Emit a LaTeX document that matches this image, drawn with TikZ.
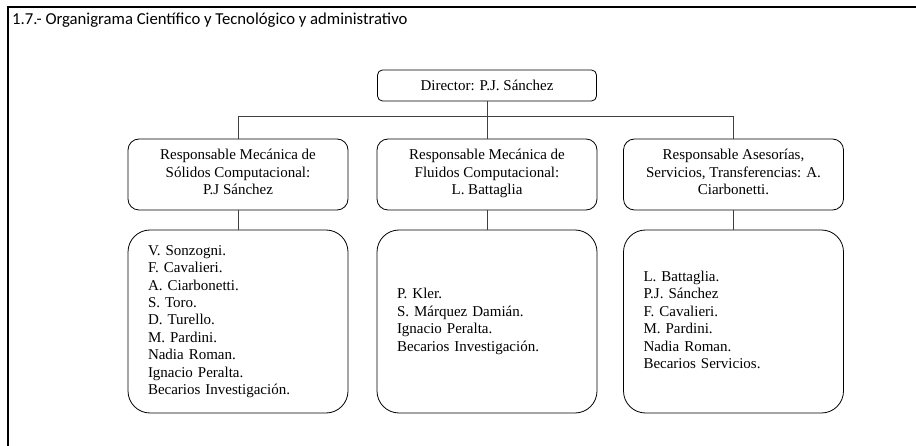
\documentclass[tikz,border=0pt]{standalone}
\usepackage{fontspec}
\setmainfont{Liberation Serif}
\newfontfamily\titlefont{Carlito}

\begin{document}
\begin{tikzpicture}[x=1pt,y=-1pt,boss/.style={shape=rectangle,draw=black,thick,rounded corners=5pt,minimum width=219pt,minimum height=31pt,font=\fontsize{15}{17.4}\selectfont},head/.style={boss,rounded corners=11pt,minimum width=220pt,minimum height=71pt,align=center,execute at begin node=\strut,execute at end node=\strut},staff/.style={boss,rounded corners=22pt,minimum height=183pt,text width=180pt,inner xsep=20pt,align=left,execute at begin node=\strut,execute at end node=\strut},link/.style={draw=black!75,line width=0.9pt}]
\def\ybar{116};
\def\ya{85.5};
\def\yb{174.5};
\def\yc{321.5};

\useasboundingbox (0,0) rectangle (916,446);
\draw[line width=1.6pt] (8,446) -- (8,7) -- (916,7);
\node[anchor=base west,inner sep=0pt,font=\titlefont\fontsize{16.7}{19}\selectfont] (title) at (12,25) {1.7.- Organigrama Científico y Tecnológico y administrativo};

\node[boss] (D) at (487,\ya) {Director: P.J. Sánchez};

\node[head] (R1) at (238,\yb) {Responsable Mecánica de\\Sólidos Computacional:\\P.J Sánchez};
\node[head] (R2) at (487,\yb) {Responsable Mecánica de\\Fluidos Computacional:\\L. Battaglia};
\node[head] (R3) at (733.5,\yb) {Responsable Asesorías,\\Servicios, Transferencias: A.\\Ciarbonetti.};

\node[staff] (S1) at (238,\yc) {V. Sonzogni.\\F. Cavalieri.\\A. Ciarbonetti.\\S. Toro.\\D. Turello.\\M. Pardini.\\Nadia Roman.\\Ignacio Peralta.\\Becarios Investigación.};
\node[staff] (S2) at (487,\yc) {P. Kler.\\S. Márquez Damián.\\Ignacio Peralta.\\Becarios Investigación.};
\node[staff] (S3) at (733.5,\yc) {L. Battaglia.\\P.J. Sánchez\\F. Cavalieri.\\M. Pardini.\\Nadia Roman.\\Becarios Servicios.};

\coordinate (bar) at (0,\ybar);
\draw[link] (D) -- (R2);
\draw[link] (R1.north) -- (R1.north |- bar) -- (R3.north |- bar) -- (R3.north);
\draw[link] (R1) -- (S1);
\draw[link] (R2) -- (S2);
\draw[link] (R3) -- (S3);
\end{tikzpicture}
\end{document}
